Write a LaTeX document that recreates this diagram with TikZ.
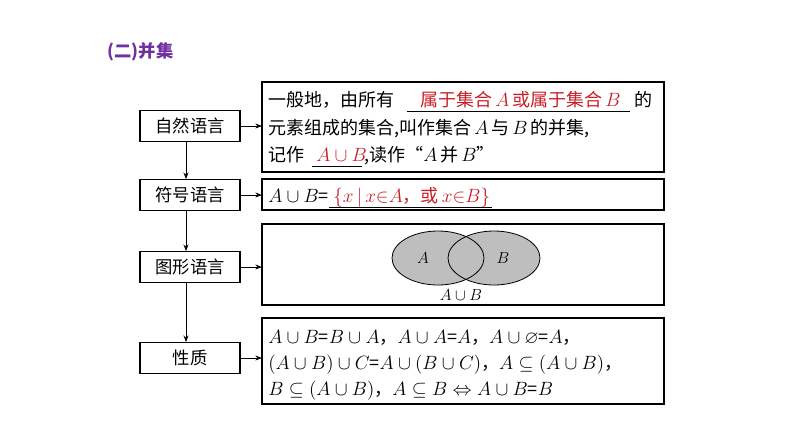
\documentclass[tikz,border=0pt]{standalone}
\usepackage{fontspec}
\usepackage{amssymb}
\newfontfamily\cjk{Noto Sans CJK SC}
\usetikzlibrary{arrows.meta}
\definecolor{rd}{RGB}{200,30,40}
\definecolor{pu}{RGB}{112,48,160}
\definecolor{vg}{RGB}{190,190,190}
\begin{document}
\begin{tikzpicture}[x=0.75pt,y=-0.75pt,
  lbox/.style={draw,line width=0.8pt,minimum width=75pt,minimum height=23pt,inner sep=0pt,font=\cjk\fontsize{13}{15}\selectfont},
  rbox/.style={draw,line width=0.8pt},
  arr/.style={-{Stealth[length=5pt]},line width=0.6pt},
  txt/.style={anchor=base west,inner sep=0pt,font=\cjk\fontsize{13.5}{16}\selectfont},
  rtxt/.style={txt,text=rd}]
\useasboundingbox (0,0) rectangle (794,447);
\node[anchor=west,text=pu,font=\cjk\bfseries\fontsize{13}{15}\selectfont] (title) at (103,52) {(二)并集};
\node[lbox] (l1) at (190,126) {自然语言};
\node[lbox] (l2) at (190,195) {符号语言};
\node[lbox] (l3) at (190,267) {图形语言};
\node[lbox] (l4) at (190,358) {性质};
\draw[rbox] (262,82) rectangle (664,172);
\draw[rbox] (262,179) rectangle (664,210);
\draw[rbox] (262,224) rectangle (664,305);
\draw[rbox] (262,318) rectangle (664,404);
\coordinate (r1) at (262,126);\coordinate (r2) at (262,195);
\coordinate (r3) at (262,267);\coordinate (r4) at (262,358);
\foreach \i in {1,2,3,4}{\draw[arr] (l\i.east) -- (r\i);}
\draw[arr] (l1.south -| 186,0) -- (l2.north -| 186,0);
\draw[arr] (l2.south -| 186,0) -- (l3.north -| 186,0);
\draw[arr] (l3.south -| 186,0) -- (l4.north -| 186,0);
% box1
\node[txt] (t1) at (268,106) {一般地，由所有};
\node[rtxt] (t1r) at (420,106) {属于集合\,$A$\,或属于集合\,$B$};
\draw (407,111) -- (630,111);
\node[txt] (t1e) at (634,106) {的};
\node[txt] (t2) at (268,134) {元素组成的集合,叫作集合\,$A$\,与\,$B$\,的并集,};
\node[txt] (t3) at (268,161) {记作};
\node[rtxt] (t3r) at (316,161) {$A\cup B$};
\draw (312,166) -- (362,166);
\node[txt] (t3e) at (364,161) {,读作“$A$\,并\,$B$”};
% box2
\node[txt] (s1) at (268,202) {$A\cup B$=};
\node[rtxt] (s1r) at (333,202) {$\{x\,|\,x{\in}A$，或\,$x{\in}B\}$};
\draw (329,207) -- (492,207);
% venn
\fill[vg] (438,258) ellipse (46 and 27);
\fill[vg] (494,258) ellipse (46 and 27);
\draw[line width=0.6pt] (438,258) ellipse (46 and 27);
\draw[line width=0.6pt] (494,258) ellipse (46 and 27);
\node[font=\fontsize{13}{15}\selectfont] (va) at (423,258) {$A$};
\node[font=\fontsize{13}{15}\selectfont] (vb) at (503,258) {$B$};
\node[font=\fontsize{13}{15}\selectfont] (vab) at (461,295) {$A\cup B$};
% box4
\node[txt] (p1) at (268,343) {$A\cup B$=$B\cup A$，$A\cup A$=$A$，$A\cup\varnothing$=$A$，};
\node[txt] (p2) at (268,369) {$(A\cup B)\cup C$=$A\cup(B\cup C)$，$A\subseteq(A\cup B)$，};
\node[txt] (p3) at (268,395) {$B\subseteq(A\cup B)$，$A\subseteq B\Leftrightarrow A\cup B$=$B$};
\end{tikzpicture}
\end{document}
